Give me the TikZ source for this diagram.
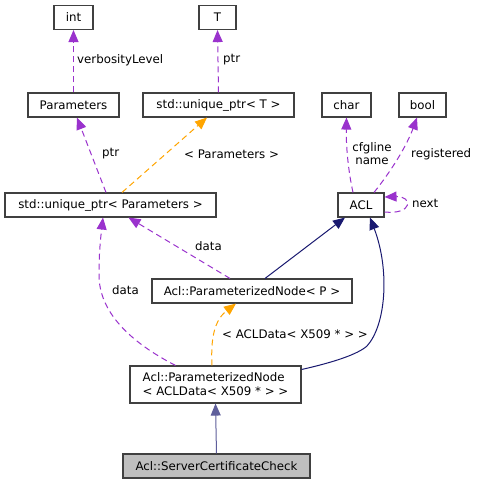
\documentclass[tikz,border=0pt]{standalone}
\usepackage{fontspec}
\setmainfont{DejaVu Sans}
\usetikzlibrary{arrows.meta,calc}
\definecolor{dpurple}{HTML}{9A32CD}
\definecolor{dorange}{HTML}{FFA500}
\definecolor{dnavy}{HTML}{191970}
\begin{document}
\begin{tikzpicture}[x=1pt,y=-1pt,
  txt/.style={font=\fontsize{11.8}{14}\selectfont},
  box/.style={txt, draw=black!75, line width=1.1pt, inner sep=0pt, minimum height=24pt},
  lbl/.style={txt, inner sep=0pt, anchor=west},
  tip/.style={-{Triangle[length=12pt,width=10pt]}},
  usep/.style={tip, dpurple, line width=1pt, dash pattern=on 6pt off 4pt},
  tmpl/.style={tip, dorange, line width=1pt, dash pattern=on 6pt off 4pt},
  inh/.style={tip, dnavy, line width=1pt}]
\fill[white] (0,0) rectangle (477,484);
\useasboundingbox (0,0) rectangle (477,484);

\node[box, minimum width=39pt] (int) at (73.5,17.5) {int};
\node[box, minimum width=37pt] (T) at (217.5,17.5) {T};
\node[box, minimum width=91pt] (params) at (73.5,105) {Parameters};
\node[box, minimum width=151pt] (uptrT) at (218.5,105) {std::unique\_ptr< T >};
\node[box, minimum width=49pt] (char) at (346.5,105) {char};
\node[box, minimum width=47pt] (bool) at (422.5,105) {bool};
\node[box, minimum width=211pt] (uptrP) at (110.5,205) {std::unique\_ptr< Parameters >};
\node[box, minimum width=46pt] (acl) at (361,205) {ACL};
\node[box, minimum width=200pt] (pnp) at (252,291) {Acl::ParameterizedNode< P >};
\node[box, minimum width=171pt, minimum height=37pt, align=left] (pna) at (215.5,384.5) {Acl::ParameterizedNode\\< ACLData< X509 * > >};
\node[box, minimum width=187pt, fill=black!25] (scc) at (216.5,466) {Acl::ServerCertificateCheck};

% edges
\draw[usep] (params.north) -- (int.south);
\node[lbl] (lverb) at (77,60) {verbosityLevel};
\draw[usep] (uptrT.north) -- (T.south);
\node[lbl] (lptr1) at (223,60) {ptr};

\draw[usep] ($(uptrP.north)+(-4.5,0)$) -- ($(params.south)+(3.5,0)$);
\node[lbl] (lptr2) at (102,154) {ptr};
\draw[tmpl] ($(uptrP.north)+(11.5,0)$) -- ($(uptrT.south)+(-11.5,0)$);
\node[lbl] (lparm) at (184,154) {< Parameters >};

\draw[usep] ($(acl.north)+(-8,0)$) .. controls (348,170) and (346,145) .. (char.south);
\node[txt, inner sep=0pt, align=center] (lcfg) at (372,153.5) {cfgline\\[-1.5pt]name};
\draw[usep] ($(acl.north)+(13,0)$) .. controls (392,170) and (407,145) .. ($(bool.south)+(-5.5,0)$);
\node[lbl] (lreg) at (411,154) {registered};

\draw[usep] ($(acl.east)+(0,7)$) .. controls (413,215) and (413,196) .. ($(acl.east)+(0,-8)$);
\node[lbl] (lnext) at (412,203) {next};

\draw[usep] ($(pnp.north)+(-22,0)$) -- ($(uptrP.south)+(18,0)$);
\node[lbl] (ldata1) at (195,246) {data};
\draw[inh] ($(pnp.north)+(13,0)$) -- ($(acl.south)+(-16,0)$);

\draw[usep] ($(pna.north)+(-40,0)$) .. controls (130,342) and (99,312) .. (99,275) .. controls (99,250) and (101,235) .. ($(uptrP.south)+(-7.5,0)$);
\node[lbl] (ldata2) at (112,290) {data};
\draw[tmpl] ($(pna.north)+(-3.5,0)$) .. controls (211,345) and (212,322) .. ($(pnp.south)+(-16,0)$);
\node[lbl] (lacld) at (222,334) {< ACLData< X509 * > >};
\draw[inh] ($(pna.east)+(0,-15)$) .. controls (335,362) and (358,354) .. (367,346) .. controls (386,325) and (390,270) .. ($(acl.south)+(9,0)$);

\draw[inh, draw=dnavy!70] (scc.north) -- (pna.south);
\end{tikzpicture}
\end{document}
